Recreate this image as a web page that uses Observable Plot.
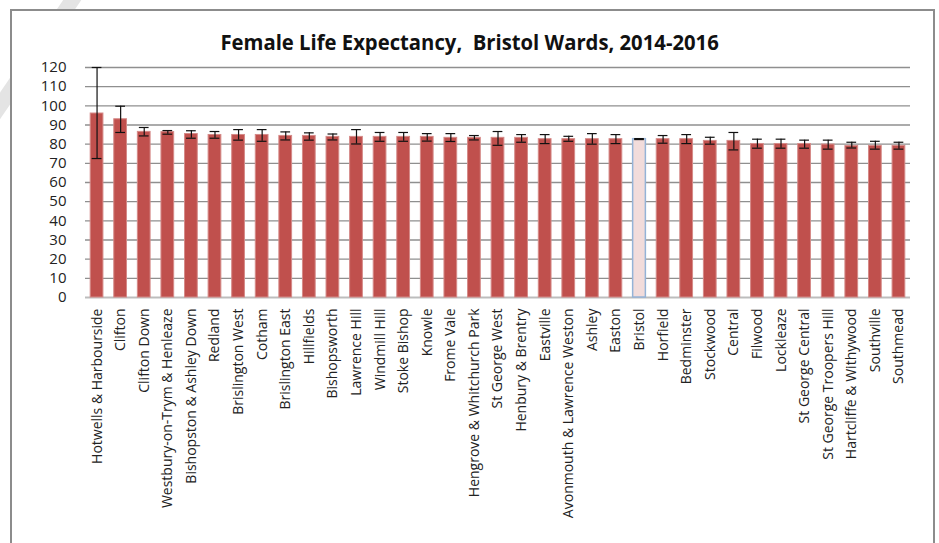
<!DOCTYPE html>
<html>
<head>
<meta charset="utf-8">
<script src="https://cdn.jsdelivr.net/npm/d3@7"></script>
<script src="https://cdn.jsdelivr.net/npm/@observablehq/plot@0.6"></script>
<style>
  html, body { margin: 0; padding: 0; background: #fff; overflow: hidden; }
  body { width: 939px; height: 543px; position: relative; font-family: "Open Sans", sans-serif; }
  #band { position: absolute; left: 70px; top: -10px; width: 15px; height: 400px; background: #e4e4e4;
          transform-origin: 0 0; transform: rotate(34.3deg); z-index: 0; }
  #box { position: absolute; left: 10px; top: 9px; width: 921px; height: 600px; border: 2px solid #8c8c8c;
         background: #fff; z-index: 1; }
  #title { position: absolute; left: 0; top: 28px; width: 939px; text-align: center; z-index: 2;
           font-family: "Open Sans", sans-serif; font-weight: 700; font-size: 21px; color: #111;
           transform: scaleX(0.965); transform-origin: 472px 0; }
  #chart { position: absolute; left: 0; top: 55px; z-index: 2; }
</style>
</head>
<body>
<div id="band"></div>
<div id="box"></div>
<div id="title">Female Life Expectancy,&nbsp; Bristol Wards, 2014-2016</div>
<div id="chart"></div>
<script>
const wards = ["Hotwells & Harbourside","Clifton","Clifton Down","Westbury-on-Trym & Henleaze","Bishopston & Ashley Down","Redland","Brislington West","Cotham","Brislington East","Hillfields","Bishopsworth","Lawrence Hill","Windmill Hill","Stoke Bishop","Knowle","Frome Vale","Hengrove & Whitchurch Park","St George West","Henbury & Brentry","Eastville","Avonmouth & Lawrence Weston","Ashley","Easton","Bristol","Horfield","Bedminster","Stockwood","Central","Filwood","Lockleaze","St George Central","St George Troopers Hill","Hartcliffe & Withywood","Southville","Southmead"];
const lifeExpectancy = [96.0,93.0,86.4,86.3,85.3,84.8,84.8,84.8,84.3,84.3,83.8,83.8,83.8,83.8,83.8,83.3,83.3,83.3,83.3,82.6,82.6,82.6,82.6,82.6,82.6,82.6,81.7,81.7,80.1,80.1,80.1,79.8,79.1,79.1,79.1];
const lowerCI = [72.5,86.1,84.3,85.2,83.1,83.1,82.1,81.5,82.2,82.1,82.2,80.1,81.5,81.5,81.6,81.4,82.2,79.4,81.0,80.3,81.5,80.0,80.3,82.4,80.5,80.3,80.0,77.0,77.9,77.9,77.9,77.4,78.0,77.4,77.4];
const upperCI = [120,99.8,88.7,87.1,87.0,86.6,87.6,87.6,86.4,85.9,85.3,87.6,86.1,86.1,85.5,85.5,84.5,86.6,85.0,85.0,84.1,85.5,85.0,82.9,84.5,85.0,83.6,86.1,82.6,82.6,82.1,82.1,81.0,81.5,81.0];
const yTicks = [0,10,20,30,40,50,60,70,80,90,100,110,120];
const highlight = "Bristol";

const data = wards.map((w, i) => ({ward: w, value: lifeExpectancy[i], lo: lowerCI[i], hi: upperCI[i]}));
const wardsOnly = data.filter(d => d.ward !== highlight);
const avg = data.filter(d => d.ward === highlight);

const chart = Plot.plot({
  width: 939,
  height: 488,
  marginLeft: 85,
  marginRight: 29,
  marginTop: 12,
  marginBottom: 246,
  style: {fontFamily: "Open Sans, sans-serif", background: "transparent", color: "#222"},
  x: {domain: wards, paddingInner: 0.46, paddingOuter: 0.22, round: false, label: null},
  y: {domain: [0, 120], label: null},
  marks: [
    Plot.ruleY(yTicks.filter(t => t > 0), {stroke: "#8f8f8f", strokeWidth: 1.4}),
    Plot.ruleY([0], {stroke: "#bdbdbd", strokeWidth: 2}),
    Plot.barY(wardsOnly, {x: "ward", y: "value", fill: "#c0504d", stroke: "#d58a88", strokeWidth: 1}),
    Plot.barY(avg, {x: "ward", y: "value", fill: "#f2dcdb", stroke: "#95b3d7", strokeWidth: 1.5}),
    Plot.ruleX(data, {x: "ward", y1: "lo", y2: "hi", stroke: "#111", strokeWidth: 1.2}),
    Plot.tickY(data, {x: "ward", y: "lo", stroke: "#111", strokeWidth: 1.2, insetLeft: 1.5, insetRight: 1.5}),
    Plot.tickY(data, {x: "ward", y: "hi", stroke: "#111", strokeWidth: 1.2, insetLeft: 1.5, insetRight: 1.5}),
    Plot.axisY({ticks: yTicks, tickSize: 0, tickPadding: 19, fontSize: 15, fill: "#222"}),
    Plot.axisX({tickSize: 0, tickRotate: -90, tickPadding: 11, fontSize: 14, fill: "#222", textAnchor: "end"})
  ]
});
document.getElementById("chart").appendChild(chart);
</script>
</body>
</html>
